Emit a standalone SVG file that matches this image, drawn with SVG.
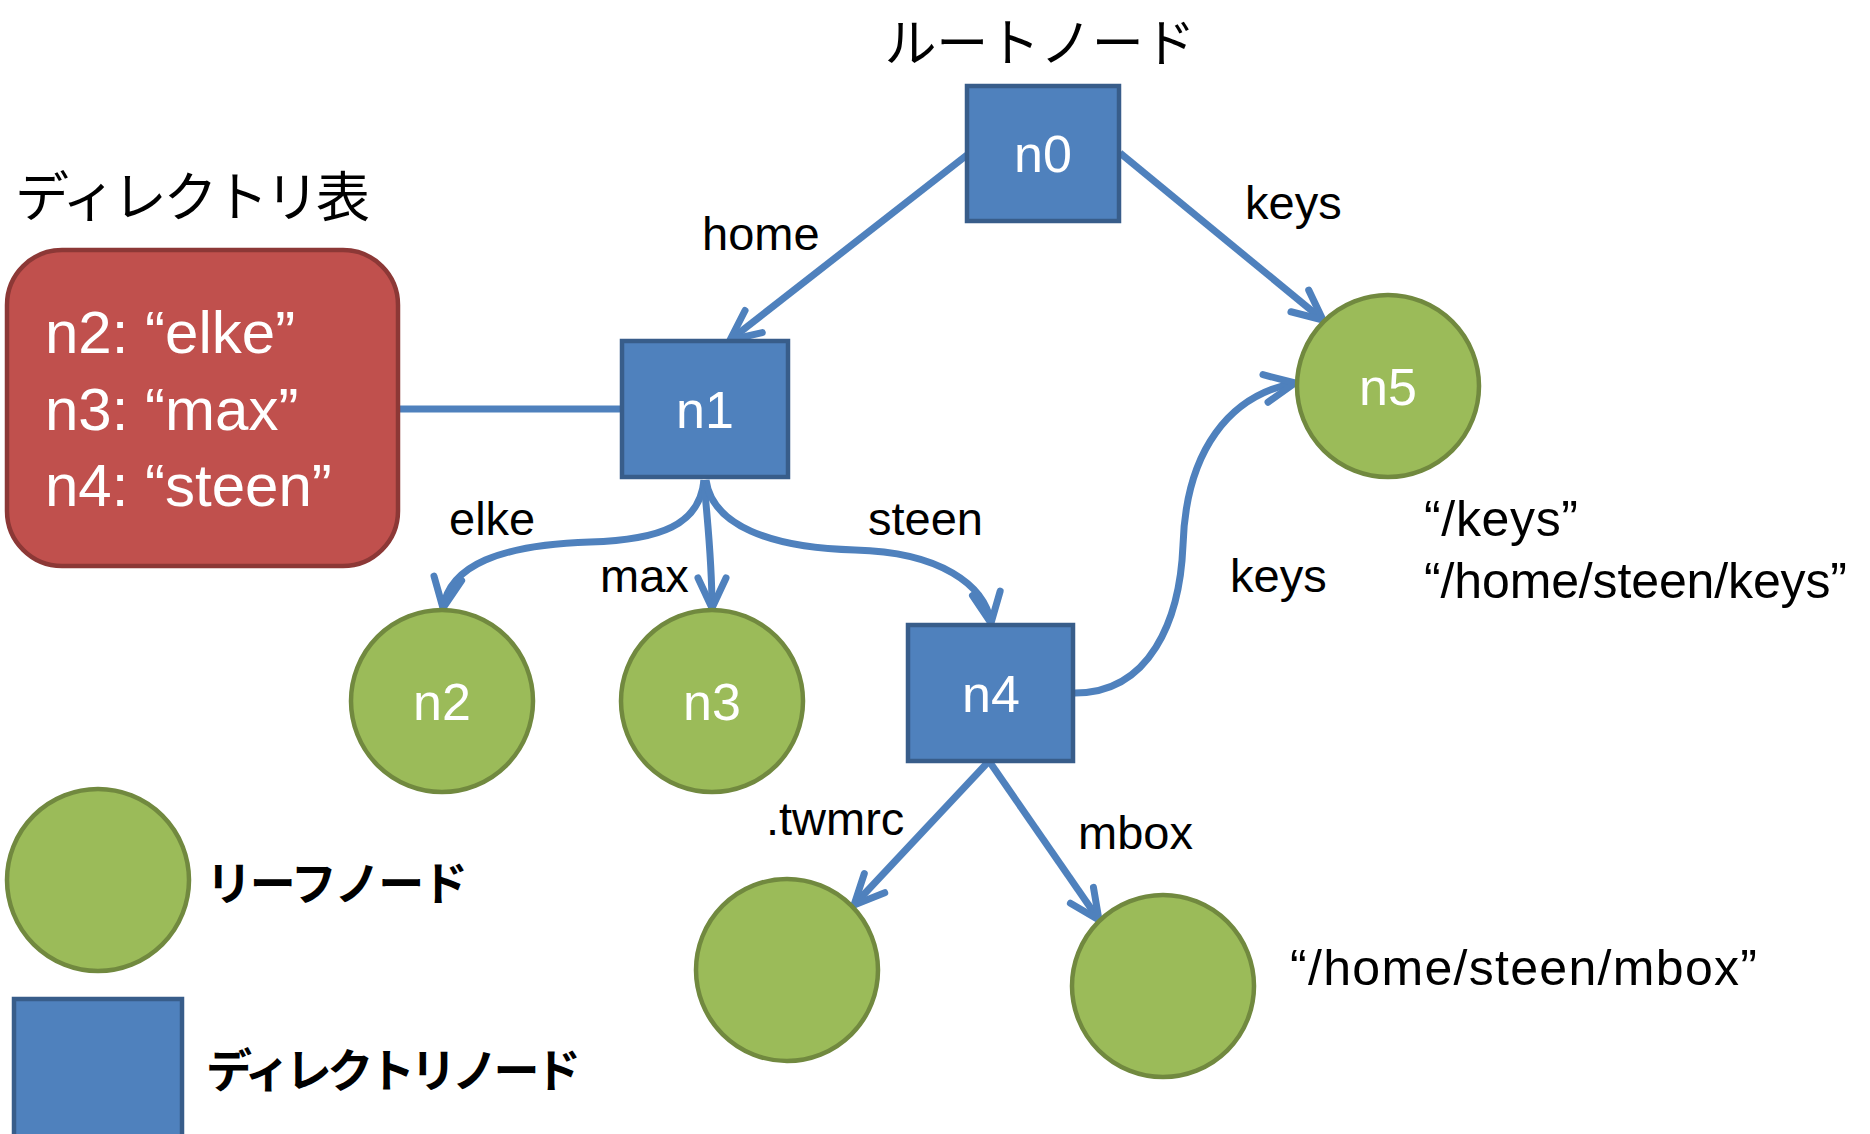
<svg xmlns="http://www.w3.org/2000/svg" width="1870" height="1134" viewBox="0 0 1870 1134">
<style>
.dir{fill:#4F81BD;stroke:#385D8A;stroke-width:4.5}
.leaf{fill:#9BBB59;stroke:#71893F;stroke-width:4.5}
.tbl{fill:#C0504D;stroke:#8C3836;stroke-width:4.5}
.nl{font-family:"Liberation Sans",Arial,sans-serif;font-size:52px;fill:#FFFFFF;text-anchor:middle}
.tl{font-family:"Liberation Sans",Arial,sans-serif;font-size:60px;fill:#FFFFFF}
.el{font-family:"Liberation Sans",Arial,sans-serif;font-size:47px;fill:#000000}
.pl{font-family:"Liberation Sans",Arial,sans-serif;font-size:50px;fill:#000000}
.jp{font-family:"Noto Sans CJK JP","Noto Sans CJK SC",sans-serif;font-size:54px;fill:#000000}
.jpt{font-family:"Noto Sans CJK JP","Noto Sans CJK SC",sans-serif;font-size:52px;fill:#000000}
.jpb{font-family:"Noto Sans CJK JP","Noto Sans CJK SC",sans-serif;font-size:46px;font-weight:bold;fill:#000000}
.edge{fill:none;stroke:#4F81BD;stroke-width:7}
.arr{marker-end:url(#arrow)}
</style>
<defs>
<marker id="arrow" markerUnits="userSpaceOnUse" markerWidth="80" markerHeight="80" viewBox="-40 -40 80 80" refX="0" refY="0" orient="auto" overflow="visible">
<path d="M-30,-14 L0,0 L-30,14" fill="none" stroke="#4F81BD" stroke-width="7" stroke-linecap="round" stroke-linejoin="round"/>
</marker>
</defs>
<rect width="1870" height="1134" fill="#FFFFFF"/>

<g id="connectors">
<line class="edge" x1="398" y1="409" x2="621" y2="409"/>
<path class="edge arr" d="M967,155 L730,340"/>
<path class="edge arr" d="M1120,153 L1323,320"/>
<path class="edge arr" d="M704,480 C700,525 660,540 590,542 C500,545 450,565 443,608"/>
<path class="edge arr" d="M704,480 C708,530 712,560 712,608"/>
<path class="edge arr" d="M706,480 C712,525 770,548 855,550 C940,552 985,585 991,623"/>
<path class="edge arr" d="M1075,693 C1150,693 1180,620 1183,545 C1186,450 1230,395 1295,383"/>
<path class="edge arr" d="M989,761 L854,905"/>
<path class="edge arr" d="M989,761 L1099,920"/>
</g>

<g id="edge-labels">
<text class="el" x="702" y="250">home</text>
<text class="el" x="1245" y="219">keys</text>
<text class="el" x="449" y="535">elke</text>
<text class="el" x="600" y="592">max</text>
<text class="el" x="868" y="535">steen</text>
<text class="el" x="1230" y="592">keys</text>
<text class="el" x="766" y="835">.twmrc</text>
<text class="el" x="1078" y="849">mbox</text>
</g>

<g id="title-root">
<text class="jpt" x="1040" y="62" text-anchor="middle" textLength="311">ルートノード</text>
</g>
<g id="title-table">
<text class="jp" x="15" y="217" textLength="355">ディレクトリ表</text>
</g>

<g id="dir-table">
<rect class="tbl" x="7" y="250" width="391" height="316" rx="55" ry="55"/>
<text class="tl" x="45" y="353">n2: “elke”</text>
<text class="tl" x="45" y="430">n3: “max”</text>
<text class="tl" x="45" y="506">n4: “steen”</text>
</g>

<g id="n0">
<rect class="dir" x="967" y="86" width="152" height="135"/>
<text class="nl" x="1043" y="172">n0</text>
</g>
<g id="n1">
<rect class="dir" x="622" y="341" width="166" height="136"/>
<text class="nl" x="705" y="428">n1</text>
</g>
<g id="n2">
<circle class="leaf" cx="442" cy="701" r="91"/>
<text class="nl" x="442" y="720">n2</text>
</g>
<g id="n3">
<circle class="leaf" cx="712" cy="701" r="91"/>
<text class="nl" x="712" y="720">n3</text>
</g>
<g id="n4">
<rect class="dir" x="908" y="625" width="165" height="136"/>
<text class="nl" x="991" y="712">n4</text>
</g>
<g id="n5">
<circle class="leaf" cx="1388" cy="386" r="91"/>
<text class="nl" x="1388" y="405">n5</text>
</g>
<g id="n5-paths">
<text class="pl" x="1424" y="536" textLength="154">“/keys”</text>
<text class="pl" x="1424" y="598" textLength="423">“/home/steen/keys”</text>
</g>
<g id="leaf-twmrc">
<circle class="leaf" cx="787" cy="970" r="91"/>
</g>
<g id="leaf-mbox">
<circle class="leaf" cx="1163" cy="986" r="91"/>
</g>
<g id="mbox-path">
<text class="pl" x="1290" y="985" textLength="467">“/home/steen/mbox”</text>
</g>

<g id="legend-leaf">
<circle class="leaf" cx="98" cy="880" r="91"/>
<text class="jpb" x="206" y="900" textLength="262">リーフノード</text>
</g>
<g id="legend-dir">
<rect class="dir" x="14" y="999" width="168" height="145"/>
<text class="jpb" x="206" y="1087" textLength="375">ディレクトリノード</text>
</g>
</svg>
